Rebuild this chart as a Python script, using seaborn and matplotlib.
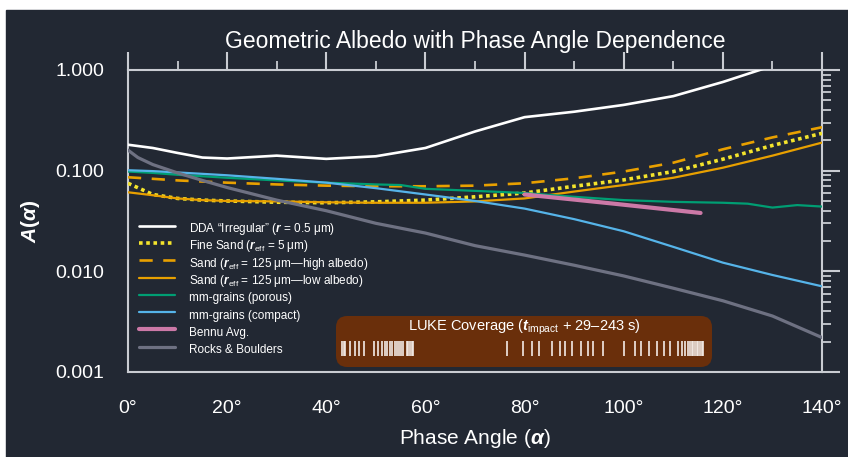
import numpy as np
import pandas as pd
import seaborn as sns
import matplotlib.pyplot as plt
import matplotlib.ticker as ticker
from matplotlib.patches import Rectangle, FancyBboxPatch

# phase angles (deg) shared by most model curves
angles = [0, 5, 10, 15, 20, 30, 40, 50, 60, 70, 80, 90, 100, 110, 120, 130, 140]

dda_irregular = [0.181, 0.168, 0.150, 0.135, 0.132, 0.141, 0.131, 0.139, 0.168, 0.245,
                 0.340, 0.385, 0.450, 0.550, 0.760, 1.100, 1.600]
fine_sand = [0.075, 0.058, 0.053, 0.051, 0.050, 0.0486, 0.048, 0.049, 0.051, 0.055,
             0.060, 0.070, 0.081, 0.098, 0.130, 0.178, 0.235]
sand_high = [0.086, 0.083, 0.080, 0.078, 0.076, 0.073, 0.071, 0.070, 0.070, 0.071,
             0.075, 0.084, 0.098, 0.120, 0.163, 0.214, 0.270]
sand_low = [0.061, 0.057, 0.053, 0.051, 0.050, 0.0495, 0.0485, 0.048, 0.048, 0.0495,
            0.053, 0.062, 0.072, 0.085, 0.107, 0.141, 0.190]
mm_compact = [0.101, 0.099, 0.096, 0.093, 0.090, 0.083, 0.076, 0.067, 0.058, 0.050,
              0.042, 0.033, 0.025, 0.0175, 0.0122, 0.0092, 0.0071]

porous_angles = [0, 5, 10, 15, 20, 30, 40, 50, 55, 60, 70, 80, 90, 100, 110, 120, 125, 130, 135, 140]
mm_porous = [0.098, 0.095, 0.091, 0.088, 0.085, 0.080, 0.076, 0.073, 0.072, 0.066, 0.063,
             0.060, 0.055, 0.051, 0.049, 0.048, 0.047, 0.043, 0.0455, 0.044]

rock_angles = [0, 2, 5, 10, 15, 20, 30, 40, 50, 60, 70, 80, 90, 100, 110, 120, 130, 140]
rocks = [0.160, 0.135, 0.115, 0.095, 0.080, 0.068, 0.051, 0.040, 0.030, 0.024, 0.018,
         0.0145, 0.0115, 0.0090, 0.0068, 0.0051, 0.0036, 0.0022]

bennu_angles = [80, 98, 115.5]
bennu = [0.058, 0.047, 0.038]

# LUKE image times (s after impact)
luke_times = [29.5, 30.5, 31.5, 34.3, 37.2, 39.8, 42.7, 48.4, 50.6, 52.9, 54.9, 56.2, 57.8,
              59.2, 60.7, 61.7, 62.9, 64.3, 65.6, 67.6, 68.6, 69.6, 70.6, 71.2,
              126.4, 136.2, 141.1, 145.4, 153.2, 157.8, 160.7, 164.6, 170.0, 174.0, 177.3, 183.2,
              195.0, 201.5, 205.5, 210.0, 214.5, 218.5, 222.5, 227.0, 229.5, 231.2, 232.6, 234.2,
              235.2, 236.1, 237.1, 238.1, 239.0, 240.1, 241.0, 242.0]

bg = "#222833"
fg = "#c9ccd2"

sns.set_style("dark", {"axes.facecolor": bg, "figure.facecolor": "white"})
plt.rcParams['font.family'] = ['Liberation Sans', 'DejaVu Sans']
plt.rcParams['mathtext.fontset'] = 'custom'
plt.rcParams['mathtext.rm'] = 'Liberation Sans'
plt.rcParams['mathtext.it'] = 'Liberation Sans:bold:italic'
plt.rcParams['mathtext.bf'] = 'Liberation Sans:bold'

fig = plt.figure(figsize=(8.48, 4.57), dpi=100)
fig.patches.append(Rectangle((6/848, 0), 1, 1 - 10/457, transform=fig.transFigure,
                             color=bg, zorder=-10))
ax = fig.add_axes([128/848, 1 - 372/457, 694/848, 302/457])

series = [
    (angles, dda_irregular, "white", 1.9, "-", "DDA \u201cIrregular\u201d ($r$ = 0.5 \u03bcm)"),
    (angles, fine_sand, "#f4e42c", 2.6, (0, (1, 1)), "Fine Sand ($r_{\\rm eff}$ = 5 \u03bcm)"),
    (angles, sand_high, "#e8a000", 1.9, (0, (5, 4)), "Sand ($r_{\\rm eff}$ = 125 \u03bcm\u2014high albedo)"),
    (angles, sand_low, "#e8a000", 1.6, "-", "Sand ($r_{\\rm eff}$ = 125 \u03bcm\u2014low albedo)"),
    (porous_angles, mm_porous, "#009e73", 1.6, "-", "mm-grains (porous)"),
    (angles, mm_compact, "#56b4e9", 1.6, "-", "mm-grains (compact)"),
    (bennu_angles, bennu, "#cc79a7", 3.0, "-", "Bennu Avg."),
    (rock_angles, rocks, "#6e7182", 2.3, "-", "Rocks & Boulders"),
]
for i, (xs, ys, c, lw, ls, lab) in enumerate(series):
    df = pd.DataFrame({"angle": xs, "albedo": ys})
    sns.lineplot(data=df, x="angle", y="albedo", ax=ax, color=c, lw=lw, linestyle=ls,
                 label=lab, zorder=5 if lab == "Bennu Avg." else 3)

ax.set_yscale("log")
ax.set_xlim(0, 140)
ax.set_ylim(0.001, 1.0)
ax.xaxis.set_major_locator(ticker.MultipleLocator(20))
ax.xaxis.set_minor_locator(ticker.MultipleLocator(10))
ax.xaxis.set_major_formatter(ticker.FuncFormatter(lambda v, p: f"{v:.0f}\u00b0"))
ax.yaxis.set_major_locator(ticker.LogLocator(base=10, numticks=10))
ax.yaxis.set_minor_locator(ticker.LogLocator(base=10, subs=np.arange(2, 10), numticks=20))
ax.yaxis.set_major_formatter(ticker.FuncFormatter(lambda v, p: f"{v:.3f}"))
ax.yaxis.set_minor_formatter(ticker.NullFormatter())
ax.tick_params(which="both", direction="out", top=True, right=True, colors=fg,
               labelcolor="white", labelsize=14)
ax.tick_params(which="major", length=13, width=1.5)
ax.tick_params(which="minor", length=6.5, width=1.3)
ax.tick_params(axis="x", pad=7)
ax.tick_params(axis="y", pad=4)
for s in ax.spines.values():
    s.set_visible(True)
    s.set_color(fg)
    s.set_linewidth(1.5)
ax.grid(False)

ax.set_xlabel("Phase Angle ($\\alpha$)", color="white", fontsize=15, labelpad=7)
ax.set_ylabel("$\\mathit{A}\\mathbf{(}\\alpha\\mathbf{)}$", color="white", fontsize=15, labelpad=10)
ax.set_title("Geometric Albedo with Phase Angle Dependence", color="white", fontsize=16.5, pad=16)

# tall handle boxes keep the rows evenly spaced regardless of mathtext height
leg = ax.legend(loc="upper left", bbox_to_anchor=(0.016, 0.505), frameon=False, fontsize=8.5,
                handlelength=3.0, handleheight=1.86, handletextpad=1.2, labelspacing=0.0,
                borderpad=0, borderaxespad=0)
for t in leg.get_texts():
    t.set_color("white")

# LUKE coverage inset
ins = ax.inset_axes([(336-128)/694, (372-367)/302, (712-336)/694, (367-316)/302])
ins.set_xlim(26, 247)
ins.set_ylim(0, 1)
ins.axis("off")
ins.add_patch(FancyBboxPatch((0, 0), 1, 1, boxstyle="round,pad=0,rounding_size=0.03",
                             mutation_aspect=376/51, transform=ins.transAxes,
                             facecolor="#6a2f0b", edgecolor="none"))
ins.vlines(luke_times, 0.22, 0.51, color="#f3ebe6", lw=1.2)
ins.text(0.5, 0.77, "LUKE Coverage ($t_{\\rm impact}$ + 29\u2013243 s)", transform=ins.transAxes,
         ha="center", va="center", color="white", fontsize=10.5)

fig.savefig("out.png", dpi=100)
